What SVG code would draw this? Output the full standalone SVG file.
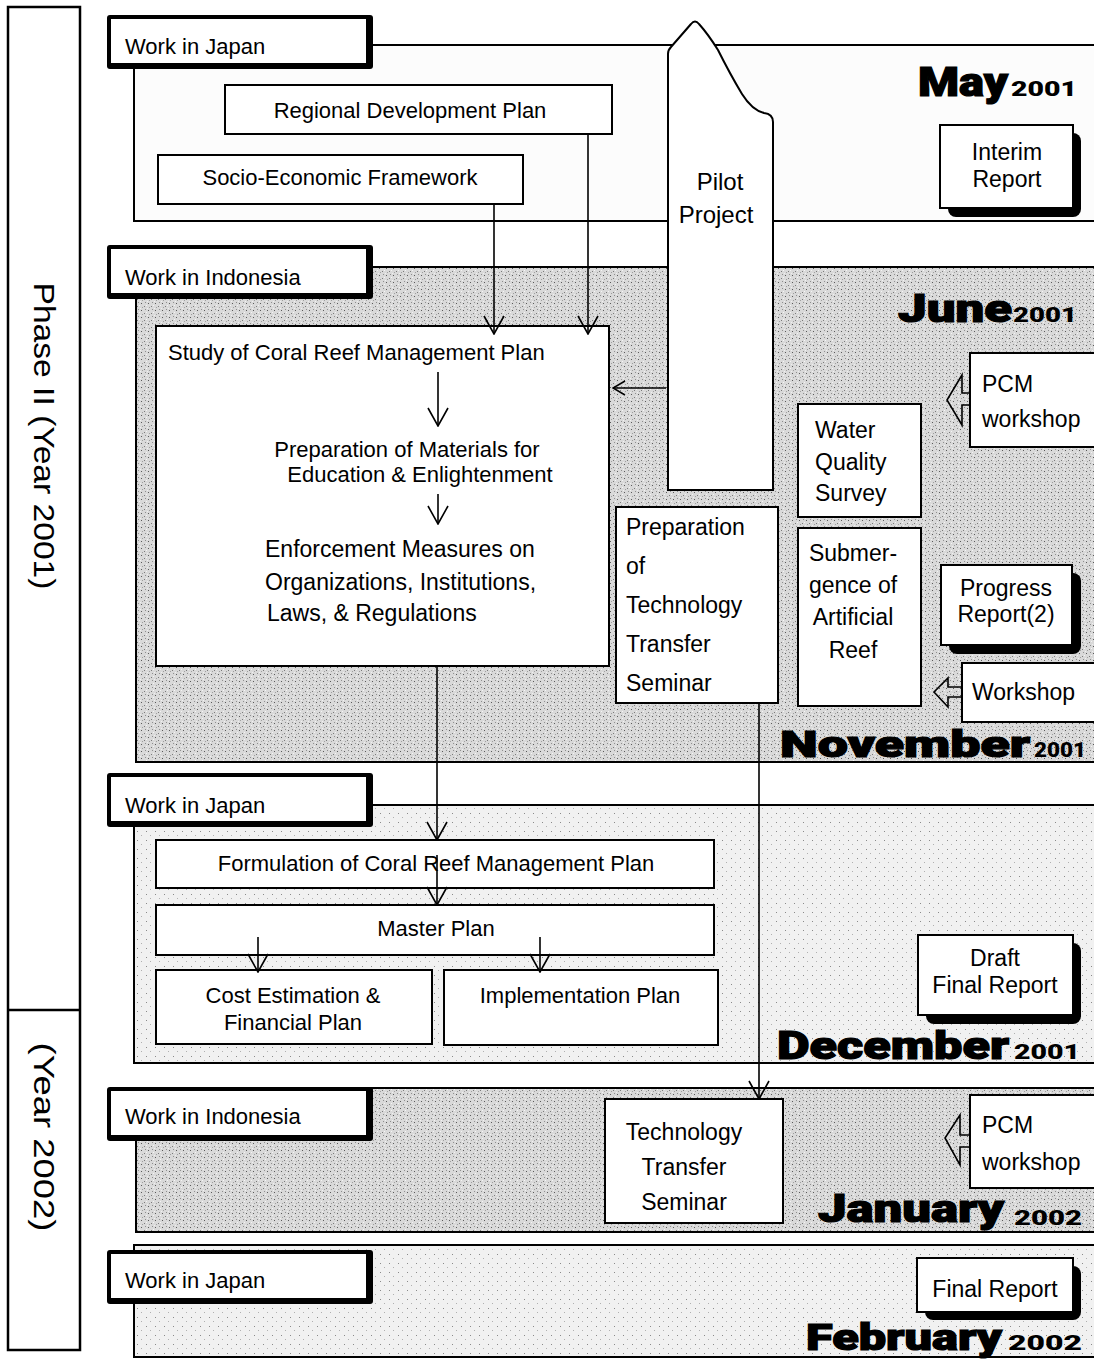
<svg xmlns="http://www.w3.org/2000/svg" width="1094" height="1361" viewBox="0 0 1094 1361">
<style>
text{font-family:"Liberation Sans",Arial,sans-serif;fill:#000}
.t{font-size:22px}
.tb{font-size:23px}
.c{text-anchor:middle}
.box{fill:#fff;stroke:#000;stroke-width:2}
.sec{stroke:#000;stroke-width:2}
.ln{stroke:#000;stroke-width:1.6;fill:none}
.mon{font-family:Roboto,"DejaVu Sans",sans-serif;font-weight:900;stroke:#000;stroke-width:1.2}
.yr{font-family:Roboto,"DejaVu Sans",sans-serif;font-weight:900;font-size:21px}
.ph{font-size:30px}
</style>
<defs>
<pattern id="grain" width="7" height="7" patternUnits="userSpaceOnUse">
<rect width="7" height="7" fill="#d9d9d9"/>
<rect x="1" y="2" width="1" height="1" fill="#5a5a5a"/>
<rect x="4" y="5" width="1" height="1" fill="#7a7a7a"/>
<rect x="5" y="1" width="1" height="1" fill="#909090"/>
<rect x="2" y="6" width="1" height="1" fill="#a0a0a0"/>
<rect x="6" y="4" width="1" height="1" fill="#f4f4f4"/>
<rect x="0" y="0" width="1" height="1" fill="#f0f0f0"/>
</pattern>
<pattern id="grainL" width="9" height="9" patternUnits="userSpaceOnUse">
<rect width="9" height="9" fill="#f1f1f1"/>
<rect x="2" y="3" width="1" height="1" fill="#8a8a8a"/>
<rect x="6" y="7" width="1" height="1" fill="#b0b0b0"/>
</pattern>
<marker id="v" viewBox="0 0 20 22" markerWidth="20" markerHeight="22" refX="19" refY="11" orient="auto" markerUnits="userSpaceOnUse">
<path d="M1,1 L19,11 L1,21" fill="none" stroke="#000" stroke-width="1.6"/>
</marker>
<marker id="vs" viewBox="0 0 14 16" markerWidth="14" markerHeight="16" refX="13" refY="8" orient="auto" markerUnits="userSpaceOnUse">
<path d="M1,1 L13,8 L1,15" fill="none" stroke="#000" stroke-width="1.5"/>
</marker>
</defs>

<rect width="1094" height="1361" fill="#fff"/>

<!-- Phase bar -->
<g id="phase">
<rect x="8" y="7" width="72" height="1343" fill="#fff" stroke="#000" stroke-width="2.5"/>
<line x1="8" y1="1010" x2="80" y2="1010" stroke="#000" stroke-width="2.5"/>
<text transform="translate(44,436) rotate(90)" y="10" class="c ph" textLength="307" lengthAdjust="spacingAndGlyphs">Phase II (Year 2001)</text>
<text transform="translate(44,1137) rotate(90)" y="10" class="c ph" textLength="189" lengthAdjust="spacingAndGlyphs">(Year 2002)</text>
</g>

<!-- Section frames -->
<g id="sections">
<rect class="sec" x="134" y="45" width="970" height="176" fill="#fcfcfc"/>
<rect class="sec" x="136" y="267" width="968" height="495" fill="url(#grain)"/>
<rect class="sec" x="134" y="805" width="970" height="258" fill="url(#grainL)"/>
<rect class="sec" x="136" y="1088" width="968" height="144" fill="url(#grain)"/>
<rect class="sec" x="134" y="1245" width="970" height="112" fill="url(#grainL)"/>
</g>

<!-- Pilot project -->
<g id="pilot">
<path d="M668,490 L668,54 Q668,50 671,47 L691,24 Q695,19 699,24 Q708,34 718,50 Q730,74 742,94 Q752,110 764,113 Q773,114 773,122 L773,490 Z" fill="#fff" stroke="#000" stroke-width="2"/>
<text x="720" y="190" class="c" style="font-size:24px">Pilot</text>
<text x="716" y="223" class="c" style="font-size:24px">Project</text>
</g>

<!-- Tabs -->
<g id="tab1"><rect x="107" y="15" width="266" height="54" rx="3" fill="#000"/><rect x="111" y="19" width="255" height="44" fill="#fff"/><text x="125" y="54" class="t">Work in Japan</text></g>
<g id="tab2"><rect x="107" y="245" width="266" height="54" rx="3" fill="#000"/><rect x="111" y="249" width="255" height="44" fill="#fff"/><text x="125" y="285" class="t">Work in Indonesia</text></g>
<g id="tab3"><rect x="107" y="773" width="266" height="54" rx="3" fill="#000"/><rect x="111" y="777" width="255" height="44" fill="#fff"/><text x="125" y="813" class="t">Work in Japan</text></g>
<g id="tab4"><rect x="107" y="1087" width="266" height="54" rx="3" fill="#000"/><rect x="111" y="1091" width="255" height="44" fill="#fff"/><text x="125" y="1124" class="t">Work in Indonesia</text></g>
<g id="tab5"><rect x="107" y="1250" width="266" height="54" rx="3" fill="#000"/><rect x="111" y="1254" width="255" height="44" fill="#fff"/><text x="125" y="1288" class="t">Work in Japan</text></g>

<!-- Section 1 nodes -->
<g id="regional"><rect class="box" x="225" y="85" width="387" height="49"/><text x="410" y="118" class="t c">Regional Development Plan</text></g>
<g id="socio"><rect class="box" x="158" y="155" width="365" height="49"/><text x="340" y="185" class="t c">Socio-Economic Framework</text></g>
<g id="interim">
<rect x="948" y="133" width="133" height="84" rx="8" fill="#000"/>
<rect class="box" x="940" y="125" width="133" height="83"/>
<text x="1007" y="160" class="tb c">Interim</text><text x="1007" y="187" class="tb c">Report</text>
</g>

<!-- Section 2 nodes -->
<g id="study">
<rect class="box" x="156" y="326" width="453" height="340"/>
<text x="168" y="360" class="t">Study of Coral Reef Management Plan</text>
<text x="407" y="457" class="t c">Preparation of Materials for</text>
<text x="420" y="482" class="t c">Education &amp; Enlightenment</text>
<text x="265" y="557" class="tb">Enforcement Measures on</text>
<text x="265" y="590" class="tb">Organizations, Institutions,</text>
<text x="267" y="621" class="tb">Laws, &amp; Regulations</text>
</g>
<g id="prepseminar"><rect class="box" x="616" y="507" width="162" height="196"/>
<text x="626" y="535" class="tb">Preparation</text><text x="626" y="574" class="tb">of</text><text x="626" y="613" class="tb">Technology</text><text x="626" y="652" class="tb">Transfer</text><text x="626" y="691" class="tb">Seminar</text></g>
<g id="water"><rect class="box" x="798" y="404" width="123" height="113"/>
<text x="815" y="438" class="tb">Water</text><text x="815" y="470" class="tb">Quality</text><text x="815" y="501" class="tb">Survey</text></g>
<g id="submerge"><rect class="box" x="798" y="528" width="123" height="178"/>
<text x="853" y="561" class="tb c">Submer-</text><text x="853" y="593" class="tb c">gence of</text><text x="853" y="625" class="tb c">Artificial</text><text x="853" y="658" class="tb c">Reef</text></g>
<g id="pcm1"><rect class="box" x="970" y="353" width="130" height="94"/>
<text x="982" y="392" class="tb">PCM</text><text x="982" y="427" class="tb">workshop</text>
<path class="ln" d="M970,393 L962,393 L962,375 L947,400 L962,425 L962,405 L970,405"/></g>
<g id="progress">
<rect x="949" y="573" width="132" height="81" rx="8" fill="#000"/>
<rect class="box" x="941" y="565" width="131" height="80"/>
<text x="1006" y="596" class="tb c">Progress</text><text x="1006" y="622" class="tb c">Report(2)</text>
</g>
<g id="workshop"><rect class="box" x="962" y="663" width="138" height="59"/>
<text x="972" y="700" class="tb">Workshop</text>
<path class="ln" d="M962,687 L948,687 L948,678 L934,692 L948,707 L948,697 L962,697"/></g>

<!-- Section 3 nodes -->
<g id="formulation"><rect class="box" x="156" y="840" width="558" height="48"/><text x="436" y="871" class="t c">Formulation of Coral Reef Management Plan</text></g>
<g id="master"><rect class="box" x="156" y="905" width="558" height="50"/><text x="436" y="936" class="t c">Master Plan</text></g>
<g id="cost"><rect class="box" x="156" y="970" width="276" height="74"/><text x="293" y="1003" class="t c">Cost Estimation &amp;</text><text x="293" y="1030" class="t c">Financial Plan</text></g>
<g id="impl"><rect class="box" x="444" y="970" width="274" height="75"/><text x="580" y="1003" class="t c">Implementation Plan</text></g>
<g id="draft">
<rect x="926" y="943" width="155" height="81" rx="8" fill="#000"/>
<rect class="box" x="918" y="935" width="155" height="80"/>
<text x="995" y="966" class="tb c">Draft</text><text x="995" y="993" class="tb c">Final Report</text>
</g>

<!-- Section 4 nodes -->
<g id="seminar"><rect class="box" x="605" y="1099" width="178" height="124"/>
<text x="684" y="1140" class="tb c">Technology</text><text x="684" y="1175" class="tb c">Transfer</text><text x="684" y="1210" class="tb c">Seminar</text></g>
<g id="pcm2"><rect class="box" x="970" y="1095" width="130" height="93"/>
<text x="982" y="1133" class="tb">PCM</text><text x="982" y="1170" class="tb">workshop</text>
<path class="ln" d="M970,1135 L960,1135 L960,1115 L945,1138 L960,1165 L960,1147 L970,1147"/></g>

<!-- Section 5 nodes -->
<g id="final">
<rect x="925" y="1266" width="156" height="54" rx="8" fill="#000"/>
<rect class="box" x="917" y="1258" width="156" height="54"/>
<text x="995" y="1297" class="tb c">Final Report</text>
</g>

<!-- Month labels -->
<g id="months">
<text x="918" y="96" class="mon" style="font-size:40px" textLength="90" lengthAdjust="spacingAndGlyphs">May</text>
<text x="1077" y="96" class="yr" text-anchor="end" textLength="66" lengthAdjust="spacingAndGlyphs">2001</text>
<text x="898" y="322" class="mon" style="font-size:38px" textLength="114" lengthAdjust="spacingAndGlyphs">June</text>
<text x="1077" y="322" class="yr" text-anchor="end" textLength="64" lengthAdjust="spacingAndGlyphs">2001</text>
<text x="780" y="757" class="mon" style="font-size:36px" textLength="250" lengthAdjust="spacingAndGlyphs">November</text>
<text x="1086" y="757" class="yr" text-anchor="end" textLength="52" lengthAdjust="spacingAndGlyphs">2001</text>
<text x="777" y="1059" class="mon" style="font-size:38px" textLength="232" lengthAdjust="spacingAndGlyphs">December</text>
<text x="1080" y="1059" class="yr" text-anchor="end" textLength="66" lengthAdjust="spacingAndGlyphs">2001</text>
<text x="818" y="1222" class="mon" style="font-size:38px" textLength="186" lengthAdjust="spacingAndGlyphs">January</text>
<text x="1082" y="1225" class="yr" text-anchor="end" textLength="68" lengthAdjust="spacingAndGlyphs">2002</text>
<text x="806" y="1350" class="mon" style="font-size:36px" textLength="196" lengthAdjust="spacingAndGlyphs">February</text>
<text x="1082" y="1350" class="yr" text-anchor="end" textLength="74" lengthAdjust="spacingAndGlyphs">2002</text>
</g>

<!-- Connectors -->
<g id="connectors">
<line class="ln" x1="494" y1="204" x2="494" y2="334" marker-end="url(#v)"/>
<line class="ln" x1="588" y1="134" x2="588" y2="334" marker-end="url(#v)"/>
<line class="ln" x1="438" y1="372" x2="438" y2="426" marker-end="url(#v)"/>
<line class="ln" x1="438" y1="494" x2="438" y2="524" marker-end="url(#v)"/>
<line class="ln" x1="666" y1="388" x2="613" y2="388" marker-end="url(#vs)"/>
<line class="ln" x1="437" y1="666" x2="437" y2="840" marker-end="url(#v)"/>
<line class="ln" x1="437" y1="855" x2="437" y2="905" marker-end="url(#v)"/>
<line class="ln" x1="258" y1="937" x2="258" y2="972" marker-end="url(#v)"/>
<line class="ln" x1="540" y1="937" x2="540" y2="972" marker-end="url(#v)"/>
<line class="ln" x1="759" y1="703" x2="759" y2="1099" marker-end="url(#v)"/>
</g>
</svg>
